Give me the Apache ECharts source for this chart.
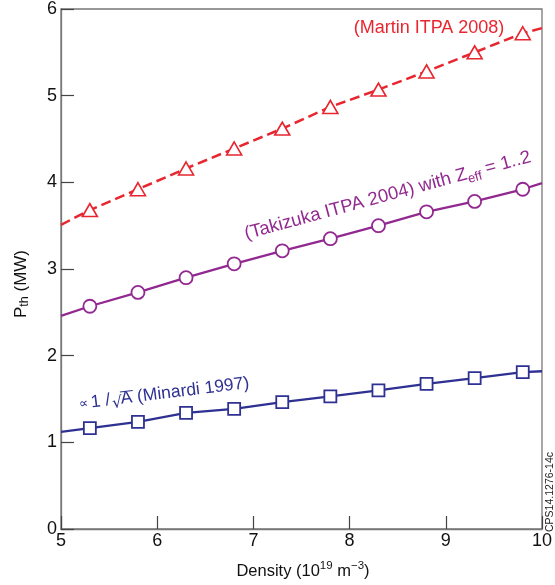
<!DOCTYPE html>
<html>
<head>
<meta charset="utf-8">
<script src="https://cdn.jsdelivr.net/npm/echarts@6/dist/echarts.min.js"></script>
<style>
html,body{margin:0;padding:0;background:#fff;}
#chart{width:555px;height:585px;}
</style>
</head>
<body>
<div id="chart"></div>
<script>
// Data
var density = [5.3, 5.8, 6.3, 6.8, 7.3, 7.8, 8.3, 8.8, 9.3, 9.8];
var lineEndsX = [5, 10];
var martin = [3.68, 3.92, 4.16, 4.39, 4.62, 4.87, 5.07, 5.28, 5.50, 5.72];
var martinEnds = [3.51, 5.78];
var takizuka = [2.57, 2.73, 2.90, 3.06, 3.21, 3.35, 3.50, 3.66, 3.78, 3.92];
var takizukaEnds = [2.46, 3.99];
var minardi = [1.165, 1.235, 1.34, 1.385, 1.465, 1.53, 1.60, 1.675, 1.74, 1.81];
var minardiEnds = [1.12, 1.82];
var xTicks = [5, 6, 7, 8, 9, 10];
var yTicks = [0, 1, 2, 3, 4, 5, 6];

var RED = '#e8262f', PURPLE = '#922990', BLUE = '#2e3192';
var FONT = '"Liberation Sans", Arial, sans-serif';

function buildLine(vals, ends) {
  var d = [{value: [lineEndsX[0], ends[0]], symbol: 'none'}];
  for (var i = 0; i < density.length; i++) d.push([density[i], vals[i]]);
  d.push({value: [lineEndsX[1], ends[1]], symbol: 'none'});
  return d;
}

var chart = echarts.init(document.getElementById('chart'));
chart.setOption({
  animation: false,
  backgroundColor: '#fff',
  grid: {left: 61, right: 11, top: 9, bottom: 56, show: true, borderColor: '#777', borderWidth: 1.3, backgroundColor: 'transparent'},
  xAxis: {
    type: 'value', min: xTicks[0], max: xTicks[xTicks.length - 1], interval: 1,
    splitLine: {show: false},
    axisLine: {lineStyle: {color: '#777', width: 1.3}},
    axisTick: {inside: true, length: 13, lineStyle: {color: '#444', width: 1.2}},
    axisLabel: {color: '#111', fontSize: 18, fontFamily: FONT, margin: 3}
  },
  yAxis: {
    type: 'value', min: yTicks[0], max: yTicks[yTicks.length - 1], interval: 1,
    splitLine: {show: false},
    axisLine: {lineStyle: {color: '#777', width: 1.3}},
    axisTick: {inside: true, length: 13, lineStyle: {color: '#444', width: 1.2}},
    axisLabel: {color: '#111', fontSize: 18, fontFamily: FONT, margin: 4}
  },
  series: [
    {
      type: 'line', data: buildLine(martin, martinEnds),
      symbol: 'triangle', symbolSize: [15, 13], showAllSymbol: true,
      lineStyle: {color: RED, width: 2.5, type: [10, 5]},
      itemStyle: {color: '#fff', borderColor: RED, borderWidth: 1.6},
      z: 3
    },
    {
      type: 'line', data: buildLine(takizuka, takizukaEnds),
      symbol: 'circle', symbolSize: 13, showAllSymbol: true,
      lineStyle: {color: PURPLE, width: 2.3},
      itemStyle: {color: '#fff', borderColor: PURPLE, borderWidth: 1.8},
      z: 3
    },
    {
      type: 'line', data: buildLine(minardi, minardiEnds),
      symbol: 'rect', symbolSize: 12, showAllSymbol: true,
      lineStyle: {color: BLUE, width: 2.3},
      itemStyle: {color: '#fff', borderColor: BLUE, borderWidth: 1.8},
      z: 3
    }
  ],
  graphic: [
    {
      type: 'text', x: 21, y: 284, rotation: Math.PI / 2,
      style: {
        text: '{m|P}{s|th}{m| (MW)}', align: 'center', verticalAlign: 'middle',
        rich: {
          m: {fontSize: 17, fontFamily: FONT, fill: '#111', lineHeight: 20, verticalAlign: 'middle'},
          s: {fontSize: 12.5, fontFamily: FONT, fill: '#111', lineHeight: 20, verticalAlign: 'bottom', padding: [6, 0, 0, 0]}
        }
      }
    },
    {
      type: 'text', x: 303, y: 570,
      style: {
        text: '{m|Density (10}{p|19}{m| m}{p|−3}{m|)}', align: 'center', verticalAlign: 'middle',
        rich: {
          m: {fontSize: 16.5, fontFamily: FONT, fill: '#111', lineHeight: 20, verticalAlign: 'bottom'},
          p: {fontSize: 11.5, fontFamily: FONT, fill: '#111', lineHeight: 20, verticalAlign: 'top', padding: [0, 0, 6, 0]}
        }
      }
    },
    {
      type: 'text', x: 429, y: 28,
      style: {text: '(Martin ITPA 2008)', fontSize: 18, fontFamily: FONT, fill: RED, align: 'center', verticalAlign: 'middle'}
    },
    {
      type: 'text', x: 248, y: 246, rotation: 15.2 * Math.PI / 180,
      style: {
        text: '{m|(Takizuka ITPA 2004) with Z}{s|eff}{m| = 1..2}', align: 'left', verticalAlign: 'bottom',
        rich: {
          m: {fontSize: 18.5, fontFamily: FONT, fill: PURPLE, lineHeight: 24, verticalAlign: 'middle'},
          s: {fontSize: 13, fontFamily: FONT, fill: PURPLE, lineHeight: 24, verticalAlign: 'bottom', padding: [9, 0, 0, 0]}
        }
      }
    },
    {
      type: 'group', x: 80, y: 412, rotation: 7 * Math.PI / 180,
      children: [
        {type: 'text', x: 0, y: -1, style: {text: '∝', fontSize: 13, fontFamily: '"DejaVu Sans", sans-serif', fill: BLUE, align: 'left', verticalAlign: 'bottom'}},
        {type: 'text', x: 12, y: 1, style: {text: '1 /', fontSize: 17.5, fontFamily: FONT, fill: BLUE, align: 'left', verticalAlign: 'bottom'}},
        {type: 'text', x: 33, y: 4, style: {text: '√', fontSize: 16, fontFamily: '"DejaVu Sans", sans-serif', fill: BLUE, align: 'left', verticalAlign: 'bottom'}},
        {type: 'line', shape: {x1: 42, y1: -15, x2: 55, y2: -15}, style: {stroke: BLUE, lineWidth: 1}},
        {type: 'text', x: 42, y: 1, style: {text: 'A (Minardi 1997)', fontSize: 17.5, fontFamily: FONT, fill: BLUE, align: 'left', verticalAlign: 'bottom'}}
      ]
    },
    {
      type: 'text', x: 550, y: 492, rotation: Math.PI / 2,
      style: {text: 'CPS14.1276-14c', fontSize: 10.5, fontFamily: FONT, fill: '#222', align: 'center', verticalAlign: 'middle'}
    }
  ]
});
</script>
</body>
</html>
